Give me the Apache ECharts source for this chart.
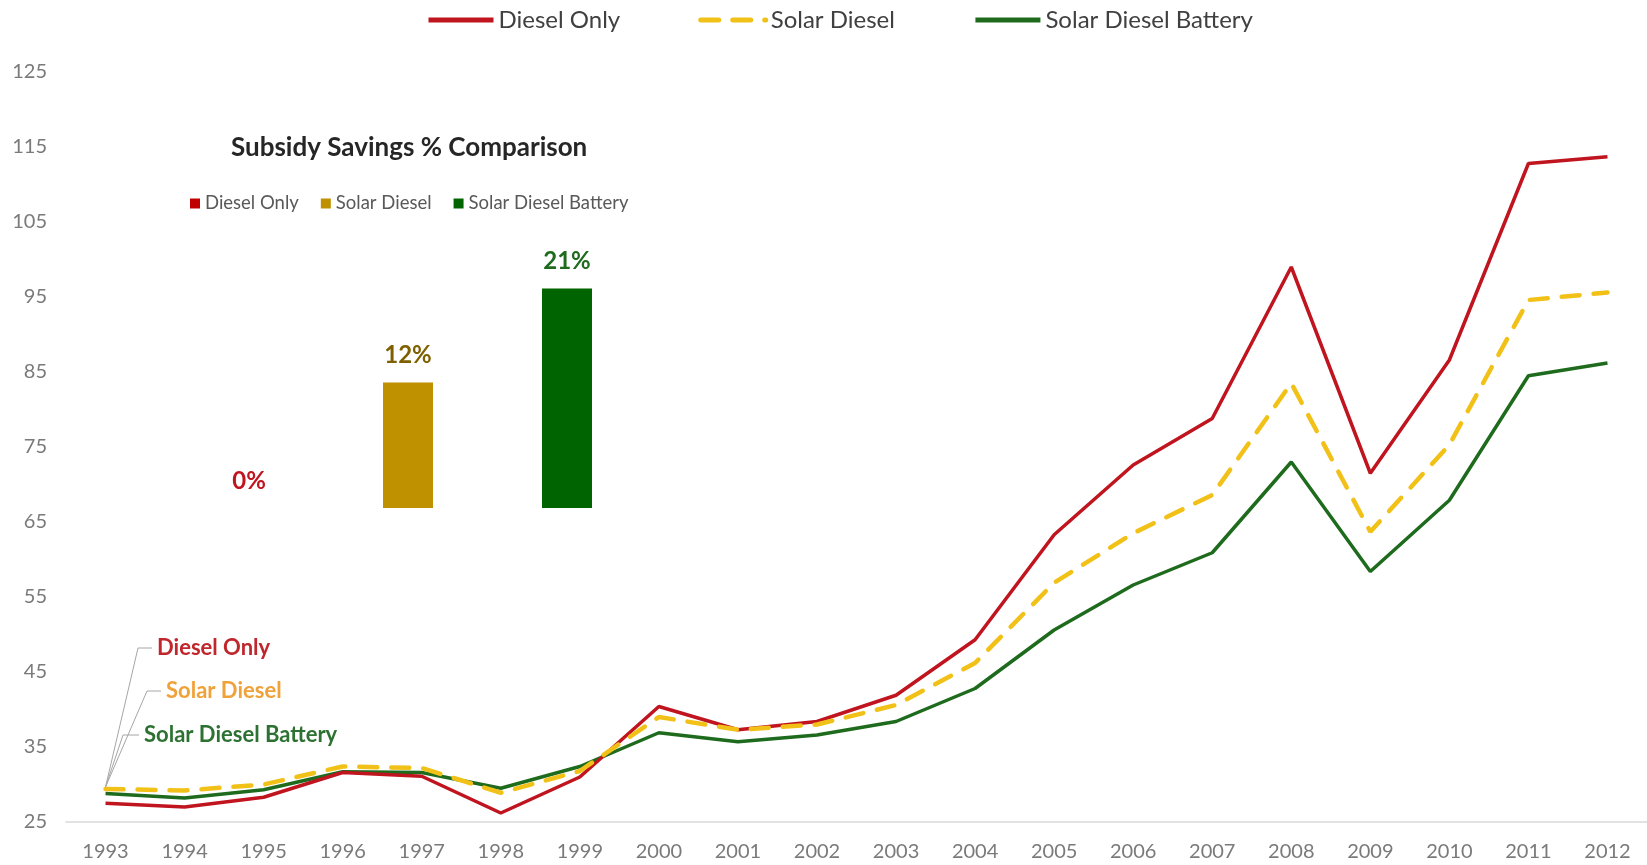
<!DOCTYPE html>
<html>
<head>
<meta charset="utf-8">
<script src="https://cdn.jsdelivr.net/npm/echarts@6/dist/echarts.min.js"></script>
<style>
html,body{margin:0;padding:0;background:#fff;}
#main{width:1647px;height:865px;}
</style>
</head>
<body>
<div id="main"></div>
<script>
// ---- data ----
const years = ['1993','1994','1995','1996','1997','1998','1999','2000','2001','2002','2003','2004','2005','2006','2007','2008','2009','2010','2011','2012'];
const dieselOnly = [27.5, 27.0, 28.3, 31.6, 31.1, 26.2, 31.0, 40.4, 37.3, 38.4, 41.9, 49.3, 63.3, 72.6, 78.8, 99.0, 71.5, 86.6, 112.8, 113.7];
const solarDiesel = [29.4, 29.2, 30.0, 32.4, 32.2, 28.9, 31.8, 39.0, 37.3, 38.0, 40.6, 46.2, 56.9, 63.5, 68.6, 83.5, 63.7, 75.3, 94.6, 95.6];
const solarDieselBattery = [28.8, 28.2, 29.3, 31.7, 31.6, 29.5, 32.4, 36.9, 35.7, 36.6, 38.4, 42.8, 50.6, 56.6, 60.9, 73.0, 58.4, 67.9, 84.5, 86.2];
const seriesNames = ['Diesel Only', 'Solar Diesel', 'Solar Diesel Battery'];
const savingsCategories = ['Diesel Only', 'Solar Diesel', 'Solar Diesel Battery'];
const savingsPct = [0, 12, 21];
const insetTitle = 'Subsidy Savings % Comparison';

const FONT = 'Lato, "Open Sans", sans-serif';
const RED = '#C0141F', YEL = '#F2C118', GRN = '#1E6B1E';

const chart = echarts.init(document.getElementById('main'));

function oneAt(i) { return savingsPct.map((v, k) => k === i ? v : '-'); }

const barColors = ['#C00000', '#BF9000', '#006400'];
const barLabelColors = ['#C0141F', '#7F6000', '#1E6B1E'];

const barSeries = savingsCategories.map((n, i) => ({
  type: 'bar', name: n + ' ', xAxisIndex: 1, yAxisIndex: 1,
  data: oneAt(i), barWidth: 50, barGap: '-100%',
  itemStyle: { color: barColors[i] },
  label: { show: true, position: 'top', distance: 15, formatter: '{c}%',
    color: barLabelColors[i], fontFamily: FONT, fontWeight: 'bold', fontSize: 24 },
  silent: true
}));

const option = {
  animation: false,
  backgroundColor: '#ffffff',
  textStyle: { fontFamily: FONT },
  title: {
    text: insetTitle, left: 226, top: 130,
    textStyle: { fontFamily: FONT, fontWeight: 'bold', fontSize: 26, color: '#262626' }
  },
  legend: [{
    data: seriesNames, left: 421, top: 3, itemWidth: 65, itemHeight: 14, itemGap: 78,
    textStyle: { fontFamily: FONT, fontSize: 24, color: '#404040' },
    lineStyle: { width: 5 },
    itemStyle: { opacity: 0 }
  }, {
    data: savingsCategories.map(n => n + ' '), left: 185, top: 189, icon: 'rect',
    itemWidth: 10, itemHeight: 10, itemGap: 22,
    formatter: n => n.trim(),
    textStyle: { fontFamily: FONT, fontSize: 18.5, color: '#595959' }
  }],
  grid: [
    { left: 66, top: 72, width: 1598, height: 750 },
    { left: 169.5, width: 477, top: 257, height: 251 }
  ],
  xAxis: [{
    type: 'category', data: years, gridIndex: 0, boundaryGap: true,
    axisLine: { show: true, lineStyle: { color: '#d9d9d9', width: 1.5 } },
    axisTick: { show: false },
    axisLabel: { color: '#7a7a7a', fontSize: 20, margin: 20, fontFamily: FONT }
  }, {
    type: 'category', data: savingsCategories, gridIndex: 1, show: false
  }],
  yAxis: [{
    type: 'value', gridIndex: 0, min: 25, max: 125, interval: 10,
    axisLine: { show: false }, axisTick: { show: false }, splitLine: { show: false },
    axisLabel: { color: '#7a7a7a', fontSize: 20, margin: 19, fontFamily: FONT }
  }, {
    type: 'value', gridIndex: 1, min: 0, max: 24, show: false, splitLine: { show: false }
  }],
  series: [{
    type: 'line', name: seriesNames[0], data: dieselOnly, symbol: 'none',
    lineStyle: { color: RED, width: 3.5 }, itemStyle: { color: RED }, z: 3
  }, {
    type: 'line', name: seriesNames[1], data: solarDiesel, symbol: 'none',
    lineStyle: { color: YEL, width: 4.5, type: [18, 14], cap: 'round' }, itemStyle: { color: YEL }, z: 4
  }, {
    type: 'line', name: seriesNames[2], data: solarDieselBattery, symbol: 'none',
    lineStyle: { color: GRN, width: 3.5 }, itemStyle: { color: GRN }, z: 2
  }].concat(barSeries)
};

chart.setOption(option);

// annotation leader lines anchored at the 1993 points
const p = chart.convertToPixel({ xAxisIndex: 0, yAxisIndex: 0 }, [0, solarDiesel[0]]);
const ax = p[0], ay = p[1] - 2;
const ann = [
  { text: 'Diesel Only', color: '#C0272D', bx: 138, by: 648, ex: 152 },
  { text: 'Solar Diesel', color: '#F0A23A', bx: 147, by: 691, ex: 161 },
  { text: 'Solar Diesel Battery', color: '#2E7233', bx: 123, by: 735, ex: 139 }
];
const g = [];
ann.forEach(a => {
  g.push({ type: 'polyline', silent: true,
    shape: { points: [[ax, ay], [a.bx, a.by], [a.ex, a.by]] },
    style: { stroke: '#a6a6a6', lineWidth: 1, fill: null } });
  g.push({ type: 'text', silent: true, x: a.ex + 5, y: a.by,
    style: { text: a.text, fill: a.color, font: 'bold 22px ' + FONT, verticalAlign: 'middle', align: 'left' } });
});
chart.setOption({ graphic: g });
</script>
</body>
</html>
